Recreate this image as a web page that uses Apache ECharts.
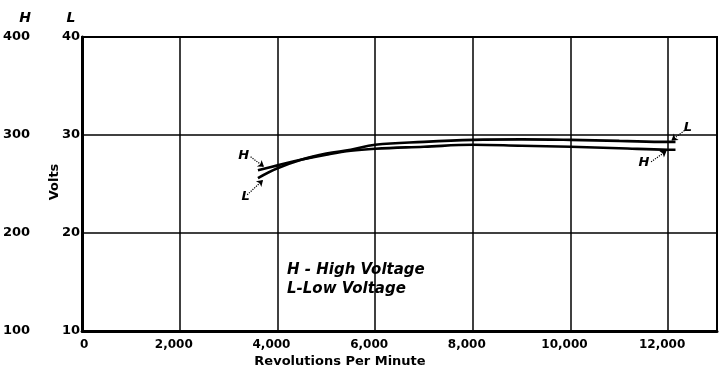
<!DOCTYPE html>
<html>
<head>
<meta charset="utf-8">
<script src="https://cdn.jsdelivr.net/npm/echarts@6/dist/echarts.min.js"></script>
<style>
  html, body { margin: 0; padding: 0; background: #fff; }
  #chart { width: 720px; height: 372px; }
</style>
</head>
<body>
<div id="chart"></div>
<script>
// Generator output voltage against speed, high- and low-voltage windings
const rpm = [3600, 4000, 4500, 5000, 5500, 6000, 7000, 8000, 9000, 10000, 11000, 12000, 12150];
const highVolts = [264, 269, 275, 280, 284, 286, 288, 290, 289, 288, 286.5, 285, 285];     // H scale 100-400
const lowVolts = [25.6, 26.6, 27.5, 28.1, 28.5, 29.0, 29.3, 29.5, 29.55, 29.5, 29.4, 29.3, 29.3]; // L scale 10-40
const xTickLabels = { 0: '0', 2000: '2,000', 4000: '4,000', 6000: '6,000', 8000: '8,000', 10000: '10,000', 12000: '12,000' };
const hTickLabels = { 100: '100', 200: '200', 300: '300', 400: '400' };
const lTickLabels = { 10: '10', 20: '20', 30: '30', 40: '40' };

const ink = '#000';
const labelFont = { color: ink, fontFamily: 'DejaVu Sans', fontWeight: 'bold', fontSize: 12 };

const chart = echarts.init(document.getElementById('chart'), null, { renderer: 'canvas' });

function pairs(xs, ys) { return xs.map((x, i) => [x, ys[i]]); }

function pointer(from, to, text) {
  return [
    { coord: from, label: { formatter: text } },
    { coord: to }
  ];
}

const pointerStyle = {
  silent: true,
  symbol: ['none', 'arrow'],
  symbolSize: 6,
  lineStyle: { type: 'dotted', color: ink, width: 1.2 },
  label: {
    position: 'start', distance: 2, color: ink,
    fontFamily: 'DejaVu Sans', fontStyle: 'italic', fontWeight: 'bold', fontSize: 13
  },
  animation: false
};

chart.setOption({
  backgroundColor: '#fff',
  animation: false,
  grid: { left: 80, right: 2, top: 37, bottom: 41, show: true, borderColor: ink, borderWidth: 2 },
  xAxis: {
    type: 'value', min: 0, max: 13000, interval: 2000,
    axisLine: { lineStyle: { color: ink, width: 3 } },
    axisTick: { show: false },
    splitLine: { lineStyle: { color: ink, width: 1.5 } },
    axisLabel: Object.assign({}, labelFont, {
      margin: 8,
      padding: [0, 12, 0, 0],
      formatter: v => (v === 0 ? '{origin|0}' : (xTickLabels[v] || '')),
      rich: { origin: Object.assign({}, labelFont, { padding: [0, 0, 0, 16] }) }
    })
  },
  yAxis: [
    {
      // H scale, drawn outboard of the frame
      type: 'value', min: 100, max: 400, interval: 100, position: 'left', offset: 44,
      axisLine: { show: false }, axisTick: { show: false }, splitLine: { show: false },
      axisLabel: Object.assign({}, labelFont, {
        fontSize: 13,
        formatter: v => hTickLabels[v] || ''
      })
    },
    {
      // L scale on the frame
      type: 'value', min: 10, max: 40, interval: 10, position: 'left',
      axisLine: { show: true, lineStyle: { color: ink, width: 3 } },
      axisTick: { show: false },
      splitLine: { lineStyle: { color: ink, width: 1.5 } },
      axisLabel: Object.assign({}, labelFont, {
        fontSize: 13, margin: 2,
        formatter: v => lTickLabels[v] || ''
      })
    }
  ],
  series: [
    {
      name: 'H', type: 'line', yAxisIndex: 0, smooth: 0.4, showSymbol: false,
      lineStyle: { color: ink, width: 2.6 },
      data: pairs(rpm, highVolts),
      markLine: Object.assign({}, pointerStyle, {
        data: [
          pointer([3450, 277.7], [3724, 267.5], 'H'),
          pointer([11650, 272.6], [11966, 283.8], 'H')
        ]
      })
    },
    {
      name: 'L', type: 'line', yAxisIndex: 1, smooth: 0.4, showSymbol: false,
      lineStyle: { color: ink, width: 2.6 },
      data: pairs(rpm, lowVolts),
      markLine: Object.assign({}, pointerStyle, {
        data: [
          pointer([3380, 23.9], [3704, 25.4], 'L'),
          pointer([12373, 30.6], [12068, 29.45], 'L')
        ]
      })
    }
  ],
  graphic: [
    {
      type: 'text', x: 25, y: 18,
      style: { text: 'H', fill: ink, font: 'italic bold 14px "DejaVu Sans"', textAlign: 'center', textVerticalAlign: 'middle' }
    },
    {
      type: 'text', x: 71, y: 18,
      style: { text: 'L', fill: ink, font: 'italic bold 14px "DejaVu Sans"', textAlign: 'center', textVerticalAlign: 'middle' }
    },
    {
      type: 'text', x: 55, y: 182, rotation: Math.PI / 2,
      style: { text: 'Volts', fill: ink, font: 'bold 13px "DejaVu Sans"', textAlign: 'center', textVerticalAlign: 'middle' }
    },
    {
      type: 'text', x: 340, y: 362,
      style: { text: 'Revolutions Per Minute', fill: ink, font: 'bold 13px "DejaVu Sans"', textAlign: 'center', textVerticalAlign: 'middle' }
    },
    {
      type: 'text', x: 287, y: 270,
      style: { text: 'H - High Voltage', fill: ink, font: 'italic bold 15px "DejaVu Sans"', textVerticalAlign: 'middle' }
    },
    {
      type: 'text', x: 287, y: 289,
      style: { text: 'L-Low Voltage', fill: ink, font: 'italic bold 15px "DejaVu Sans"', textVerticalAlign: 'middle' }
    }
  ]
});
</script>
</body>
</html>
